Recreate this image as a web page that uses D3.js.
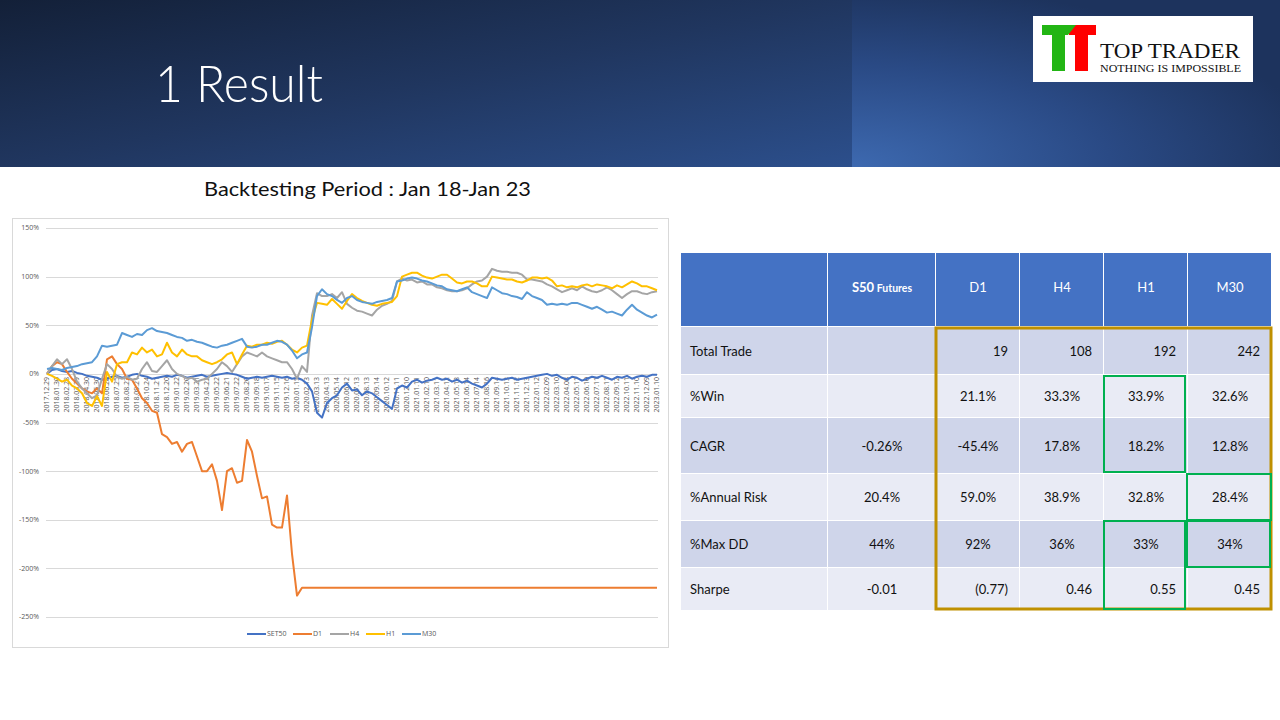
<!DOCTYPE html>
<html>
<head>
<meta charset="utf-8">
<script src="https://cdn.jsdelivr.net/npm/d3@7"></script>
<style>
  html, body { margin: 0; padding: 0; background: #fff; }
  svg { display: block; }
</style>
</head>
<body>
<svg id="slide" width="1280" height="720"></svg>
<script>
// Category labels (one per month) on the x axis
const xLabels = [
  "2017.12.29","2018.01.30","2018.02.28","2018.03.29","2018.04.30","2018.05.30","2018.06.28","2018.07.25",
  "2018.08.23","2018.09.21","2018.10.24","2018.11.21","2018.12.20","2019.01.22","2019.02.20","2019.03.21",
  "2019.04.22","2019.05.22","2019.06.21","2019.07.22","2019.08.20","2019.09.18","2019.10.17","2019.11.15",
  "2019.12.16","2020.01.15","2020.02.13","2020.03.13","2020.04.13","2020.05.14","2020.06.12","2020.07.13",
  "2020.08.13","2020.09.14","2020.10.12","2020.11.11","2020.12.10","2021.01.11","2021.02.10","2021.03.11",
  "2021.04.12","2021.05.13","2021.06.14","2021.07.14","2021.08.16","2021.09.14","2021.10.13","2021.11.12",
  "2021.12.13","2022.01.12","2022.02.09","2022.03.10","2022.04.08","2022.05.11","2022.06.10","2022.07.11",
  "2022.08.11","2022.09.12","2022.10.11","2022.11.10","2022.12.09","2023.01.10"
];
const step = 0.5; // series values are sampled twice a month

// cumulative return, %
const set50 = [
  0,4,5,3,2,3,1,0,-2,-3,
  -4,-6,-5,-3,-2,-4,-3,-1,0,-2,
  -3,-5,-4,-3,-2,-3,-1,-2,-4,-3,
  -2,-1,-3,-2,-1,0,1,0,-1,-3,
  -5,-4,-3,-4,-3,-2,-3,-4,-3,-5,
  -4,-6,-10,-18,-40,-45,-30,-25,-22,-14,
  -10,-17,-16,-22,-18,-20,-24,-28,-32,-36,
  -15,-12,-14,-8,-6,-9,-7,-6,-4,-6,
  -5,-8,-6,-9,-7,-10,-12,-14,-10,-4,
  -5,-6,-5,-4,-6,-5,-4,-3,-2,-1,
  0,-2,-1,-4,-6,-3,-4,-7,-5,-3,
  -4,-2,-4,-6,-3,-4,-2,-5,-3,-2,
  -3,-1,-1
];
const d1 = [
  0,8,12,10,2,-5,-10,-15,-18,-20,
  -15,-20,15,18,10,5,-5,-6,-15,-25,
  -30,-38,-40,-62,-65,-72,-70,-80,-72,-70,
  -85,-100,-100,-93,-110,-140,-100,-97,-112,-110,
  -68,-80,-105,-128,-126,-155,-158,-158,-125,-185,
  -228,-220,-220,-220,-220,-220,-220,-220,-220,-220,
  -220,-220,-220,-220,-220,-220,-220,-220,-220,-220,
  -220,-220,-220,-220,-220,-220,-220,-220,-220,-220,
  -220,-220,-220,-220,-220,-220,-220,-220,-220,-220,
  -220,-220,-220,-220,-220,-220,-220,-220,-220,-220,
  -220,-220,-220,-220,-220,-220,-220,-220,-220,-220,
  -220,-220,-220,-220,-220,-220,-220,-220,-220,-220,
  -220,-220,-220
];
const h4 = [
  0,8,15,10,15,5,-8,-15,-20,-25,
  -22,-5,10,5,-3,-5,-3,-6,-5,5,
  12,3,2,8,14,5,0,-2,-5,-4,
  -8,-6,-5,0,5,12,8,2,10,18,
  22,20,18,22,18,16,14,12,12,5,
  -5,8,2,60,83,80,80,82,78,84,
  72,68,65,64,62,60,66,70,72,75,
  95,98,96,97,94,95,92,92,89,88,
  86,85,85,86,88,92,95,96,100,108,
  106,105,105,104,104,102,97,97,96,95,
  92,90,87,84,86,88,86,90,87,85,
  84,86,89,86,82,78,82,85,85,83,
  82,84,85
];
const h1 = [
  0,-2,-5,-8,-6,-12,-15,-20,-30,-33,
  -23,-33,2,-8,10,12,12,22,20,27,
  22,25,18,20,32,22,18,25,20,18,
  18,14,12,10,12,15,20,22,10,20,
  29,28,30,30,32,31,33,34,30,25,
  22,27,29,56,73,72,71,77,72,67,
  75,82,78,75,73,71,70,72,73,74,
  80,100,102,104,104,101,99,98,100,102,
  102,98,94,93,95,95,93,90,90,100,
  99,98,97,97,95,94,96,99,99,98,
  99,96,90,91,89,90,89,91,92,90,
  92,91,90,88,91,89,92,95,93,90,
  90,88,86
];
const m30 = [
  5,6,5,4,6,7,8,10,11,12,
  18,29,28,29,30,42,40,38,41,40,
  45,47,44,43,42,40,38,37,34,35,
  33,32,30,28,27,29,30,32,34,36,
  28,27,28,30,30,32,34,33,30,24,
  16,20,22,48,80,87,82,80,76,73,
  78,80,76,74,73,72,74,75,76,78,
  95,96,98,99,98,96,95,93,91,90,
  87,86,85,87,89,84,82,80,78,89,
  86,83,82,80,79,77,84,80,78,76,
  71,72,71,72,71,73,73,71,69,67,
  69,66,63,64,62,60,66,71,66,63,
  60,58,61
];
const seriesNames = ["SET50", "D1", "H4", "H1", "M30"];
const seriesColors = ["#4472C4", "#ED7D31", "#A5A5A5", "#FFC000", "#5B9BD5"];
const yTicks = [150, 100, 50, 0, -50, -100, -150, -200, -250];

// results table
const tableCols = ["", "S50", "D1", "H4", "H1", "M30"];
const rowLabels = ["Total Trade", "%Win", "CAGR", "%Annual Risk", "%Max DD", "Sharpe"];
const rowValues = [
  ["", "19", "108", "192", "242"],
  ["", "21.1%", "33.3%", "33.9%", "32.6%"],
  ["-0.26%", "-45.4%", "17.8%", "18.2%", "12.8%"],
  ["20.4%", "59.0%", "38.9%", "32.8%", "28.4%"],
  ["44%", "92%", "36%", "33%", "34%"],
  ["-0.01", "(0.77)", "0.46", "0.55", "0.45"]
];
const rightAligned = ["Total Trade", "Sharpe"];

const svg = d3.select("#slide");
const defs = svg.append("defs");

// ---------- header band ----------
const gl = defs.append("linearGradient").attr("id", "hdrL")
  .attr("x1", "0").attr("y1", "0").attr("x2", "1").attr("y2", "1");
gl.append("stop").attr("offset", "0").attr("stop-color", "#132038");
gl.append("stop").attr("offset", "0.5").attr("stop-color", "#20365f");
gl.append("stop").attr("offset", "1").attr("stop-color", "#2c4f8c");
const gr = defs.append("radialGradient").attr("id", "hdrR")
  .attr("cx", "0").attr("cy", "1").attr("r", "1.1");
gr.append("stop").attr("offset", "0").attr("stop-color", "#3d69b0");
gr.append("stop").attr("offset", "0.55").attr("stop-color", "#2a4a85");
gr.append("stop").attr("offset", "1").attr("stop-color", "#1d335d");

svg.append("rect").attr("x", 0).attr("y", 0).attr("width", 852).attr("height", 167).attr("fill", "url(#hdrL)");
svg.append("rect").attr("x", 852).attr("y", 0).attr("width", 428).attr("height", 167).attr("fill", "url(#hdrR)");

svg.append("text").attr("x", 155).attr("y", 102)
  .attr("font-family", "Lato, 'Open Sans', sans-serif").attr("font-weight", 300)
  .attr("font-size", 51).attr("fill", "#fff")
  .attr("textLength", 168).attr("lengthAdjust", "spacingAndGlyphs")
  .text("1 Result");

// logo
const logo = svg.append("g");
logo.append("rect").attr("x", 1033).attr("y", 16).attr("width", 220).attr("height", 66).attr("fill", "#fff");
logo.append("rect").attr("x", 1069).attr("y", 25).attr("width", 27).attr("height", 10).attr("fill", "#ff0000");
logo.append("rect").attr("x", 1075).attr("y", 25).attr("width", 13).attr("height", 46).attr("fill", "#ff0000");
logo.append("path").attr("d", "M1042,25 L1076,25 L1068,35 L1042,35 Z").attr("fill", "#22b514");
logo.append("rect").attr("x", 1052).attr("y", 35).attr("width", 13).attr("height", 36).attr("fill", "#22b514");
logo.append("text").attr("x", 1100).attr("y", 58)
  .attr("font-family", "'Liberation Serif', 'DejaVu Serif', serif").attr("font-size", 21).attr("fill", "#111")
  .attr("textLength", 140).attr("lengthAdjust", "spacingAndGlyphs").text("TOP TRADER");
logo.append("text").attr("x", 1100).attr("y", 72)
  .attr("font-family", "'Liberation Serif', 'DejaVu Serif', serif").attr("font-size", 10.5).attr("fill", "#111")
  .attr("textLength", 141).attr("lengthAdjust", "spacingAndGlyphs").text("NOTHING IS IMPOSSIBLE");

// subtitle
svg.append("text").attr("x", 204).attr("y", 196)
  .attr("font-family", "Lato, 'Open Sans', sans-serif").attr("font-size", 20).attr("fill", "#111")
  .attr("textLength", 327).attr("lengthAdjust", "spacingAndGlyphs")
  .text("Backtesting Period : Jan 18-Jan 23");

// ---------- line chart ----------
svg.append("rect").attr("x", 12.5).attr("y", 218.5).attr("width", 656).attr("height", 429)
  .attr("fill", "#fff").attr("stroke", "#d9d9d9");

const x = d3.scaleLinear().domain([0, xLabels.length - 1]).range([47, 657]);
const y = d3.scaleLinear().domain([-250, 150]).range([617, 228]);
const chart = svg.append("g").attr("font-family", "'Open Sans', Lato, sans-serif");

chart.append("g").selectAll("line").data(yTicks).join("line")
  .attr("x1", 46).attr("x2", 658)
  .attr("y1", d => Math.round(y(d)) + 0.5).attr("y2", d => Math.round(y(d)) + 0.5)
  .attr("stroke", "#d9d9d9").attr("stroke-width", 1);

chart.append("g").selectAll("text").data(yTicks).join("text")
  .attr("x", 39).attr("y", d => y(d)).attr("dy", "0.35em")
  .attr("text-anchor", "end").attr("font-size", 7).attr("fill", "#595959")
  .text(d => d + "%");

chart.append("g").selectAll("text").data(xLabels).join("text")
  .attr("transform", (d, i) => `translate(${x(i)},${y(0) + 3}) rotate(-90)`)
  .attr("dy", "0.35em").attr("text-anchor", "end")
  .attr("font-size", 7).attr("fill", "#595959")
  .text(d => d);

const allSeries = [set50, d1, h4, h1, m30];
const line = d3.line().x((d, i) => x(i * step)).y(d => y(d));
chart.append("g").selectAll("path").data(allSeries).join("path")
  .attr("d", d => line(d))
  .attr("fill", "none")
  .attr("stroke", (d, i) => seriesColors[i])
  .attr("stroke-width", 2)
  .attr("stroke-linejoin", "round");

// legend
const legendX = [247, 293, 330, 366, 402];
const lg = chart.append("g").selectAll("g").data(seriesNames).join("g")
  .attr("transform", (d, i) => `translate(${legendX[i]},634)`);
lg.append("line").attr("x1", 0).attr("x2", 19).attr("y1", 0).attr("y2", 0)
  .attr("stroke", (d, i) => seriesColors[i]).attr("stroke-width", 2);
lg.append("text").attr("x", 20).attr("dy", "0.35em")
  .attr("font-size", 7).attr("fill", "#595959").text(d => d);

// ---------- table ----------
const colEdges = [681, 828, 936, 1020, 1104, 1188, 1272];
const rowEdges = [253, 327, 375, 418, 474, 521, 568, 611];
const tbl = svg.append("g").attr("font-family", "Lato, 'Open Sans', sans-serif");

tableCols.forEach((c, ci) => {
  const x0 = colEdges[ci], x1 = colEdges[ci + 1];
  tbl.append("rect").attr("x", x0).attr("y", rowEdges[0])
    .attr("width", x1 - x0 - 1).attr("height", rowEdges[1] - rowEdges[0] - 1)
    .attr("fill", "#4472C4");
  if (!c) return;
  const t = tbl.append("text").attr("x", (x0 + x1) / 2).attr("y", 292)
    .attr("text-anchor", "middle").attr("fill", "#fff").attr("font-size", 13);
  if (c === "S50") {
    t.attr("font-weight", 700);
    t.append("tspan").text("S50");
    t.append("tspan").attr("font-size", 10.5).text(" Futures");
  } else {
    t.text(c);
  }
});

rowLabels.forEach((r, ri) => {
  const y0 = rowEdges[ri + 1], y1 = rowEdges[ri + 2];
  const fill = ri % 2 === 0 ? "#CFD5EA" : "#E9EBF5";
  const cy = (y0 + y1) / 2;
  colEdges.slice(0, -1).forEach((x0, ci) => {
    tbl.append("rect").attr("x", x0).attr("y", y0)
      .attr("width", colEdges[ci + 1] - x0 - 1).attr("height", y1 - y0 - 1)
      .attr("fill", fill);
  });
  tbl.append("text").attr("x", 690).attr("y", cy).attr("dy", "0.35em")
    .attr("font-size", 13).attr("fill", "#111").text(r);
  rowValues[ri].forEach((v, vi) => {
    const x0 = colEdges[vi + 1], x1 = colEdges[vi + 2];
    const right = vi > 0 && rightAligned.includes(r);
    tbl.append("text")
      .attr("x", right ? x1 - 12 : (x0 + x1) / 2)
      .attr("y", cy).attr("dy", "0.35em")
      .attr("text-anchor", right ? "end" : "middle")
      .attr("font-size", 13).attr("fill", "#111").text(v);
  });
});

// highlight boxes
tbl.append("rect").attr("x", 936).attr("y", 328).attr("width", 335).attr("height", 281)
  .attr("fill", "none").attr("stroke", "#BF9000").attr("stroke-width", 3);
const greens = [
  [1104, 376, 81, 96],
  [1187, 474, 84, 46],
  [1104, 521, 81, 88],
  [1187, 521, 83, 46]
];
tbl.append("g").selectAll("rect").data(greens).join("rect")
  .attr("x", d => d[0]).attr("y", d => d[1]).attr("width", d => d[2]).attr("height", d => d[3])
  .attr("fill", "none").attr("stroke", "#00B050").attr("stroke-width", 2);
</script>
</body>
</html>
